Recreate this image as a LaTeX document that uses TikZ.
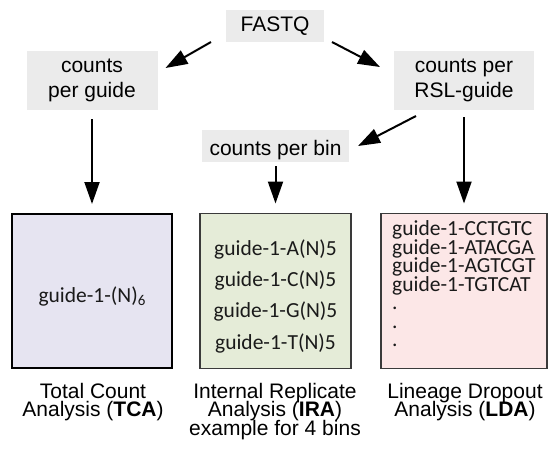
\documentclass[tikz,border=0pt]{standalone}
\usepackage{fontspec}
\setmainfont{Liberation Sans}
\newfontfamily\calfont{Carlito}
\usetikzlibrary{arrows.meta}
\definecolor{boxgray}{HTML}{EBEBEB}
\definecolor{tcafill}{HTML}{E6E4F1}
\definecolor{irafill}{HTML}{E5ECD8}
\definecolor{ldafill}{HTML}{FCE7E7}
\definecolor{bordgray}{HTML}{3A3A3A}
\definecolor{txt}{HTML}{1A1A1A}
\begin{document}
\begin{tikzpicture}[x=1pt,y=-1pt,
  graybox/.style={fill=boxgray, inner sep=0pt, outer sep=0pt, align=center,
    font=\fontsize{21}{25}\selectfont},
  arr/.style={line width=2pt, -{Triangle[length=22pt,width=15pt]}},
  resbox/.style={inner sep=0pt, outer sep=0pt},
  content/.style={inner sep=0pt, text=txt, font=\calfont\fontsize{21.5}{21.5}\selectfont},
  ldaline/.style={content, anchor=base west, text height=14.5pt, text depth=4pt},
  caption/.style={inner sep=0pt, anchor=base, text height=15pt, text depth=3pt,
    font=\fontsize{21}{21}\selectfont}
]
\useasboundingbox (0,0) rectangle (548,451);

% gray step boxes
\node[graybox, minimum width=98pt, minimum height=32pt, text height=11pt, text depth=1pt] (fastq) at (275,26) {FASTQ};
\node[graybox, minimum width=131pt, minimum height=59pt] (cpg) at (92,80.5) {counts\\per guide};
\node[graybox, minimum width=140pt, minimum height=59pt] (rsl) at (464,80.5) {counts per\\RSL-guide};
\node[graybox, minimum width=147pt, minimum height=32pt, text height=18pt, text depth=0pt] (bin) at (275.5,146) {counts per bin};

% result boxes
\node[resbox, draw=black, line width=2pt, fill=tcafill, minimum width=160pt, minimum height=154pt] (tca) at (92,291) {};
\node[resbox, draw=bordgray, line width=1.2pt, fill=irafill, minimum width=151pt, minimum height=155pt] (ira) at (275.5,291) {};
\node[resbox, draw=bordgray, line width=1.2pt, fill=ldafill, minimum width=166pt, minimum height=155pt] (lda) at (464,291) {};

% contents
\node[content, anchor=base] (tcatext) at (92,302) {guide-1-(N)\raisebox{-3pt}{\fontsize{15}{15}\selectfont 6}};
\foreach \b [count=\i] in {A,C,G,T}
  \node[content, anchor=base] (ira\i) at (275.5,{255+31.4*(\i-1)}) {guide-1-\b(N)5};
\foreach \s [count=\i] in {CCTGTC,ATACGA,AGTCGT,TGTCAT}
  \node[ldaline] (lda\i) at (392,{235.7+18.5*(\i-1)}) {guide-1-\s};
\foreach \i in {1,2,3}
  \node[ldaline] (ldadot\i) at (392,{309.7+18.5*(\i-1)}) {.};

% arrows
\draw[arr] ([xshift=-15pt]fastq.south west) -- ([xshift=8pt,yshift=12.5pt]cpg.east);
\draw[arr] ([xshift=8pt]fastq.south east) -- ([xshift=-14pt,yshift=13.5pt]rsl.west);
\draw[arr] ([xshift=22pt,yshift=-6pt]rsl.south west) -- ([xshift=9pt]bin.east);
\draw[arr] ([yshift=-9pt]cpg.south) -- ([yshift=10pt]tca.north);
\draw[arr] ([yshift=-4pt]bin.south) -- ([yshift=10pt]ira.north);
\draw[arr] ([yshift=-7pt]rsl.south) -- ([yshift=10pt]lda.north);

% captions
\node[caption] (tcac1) at (93,398) {Total Count};
\node[caption] (tcac2) at (93,416.5) {Analysis (\textbf{TCA})};
\node[caption] (irac1) at (275,398) {Internal Replicate};
\node[caption] (irac2) at (275,416.5) {Analysis (\textbf{IRA})};
\node[caption] (irac3) at (275,435) {example for 4 bins};
\node[caption] (ldac1) at (465,398) {Lineage Dropout};
\node[caption] (ldac2) at (465,416.5) {Analysis (\textbf{LDA})};
\end{tikzpicture}
\end{document}
